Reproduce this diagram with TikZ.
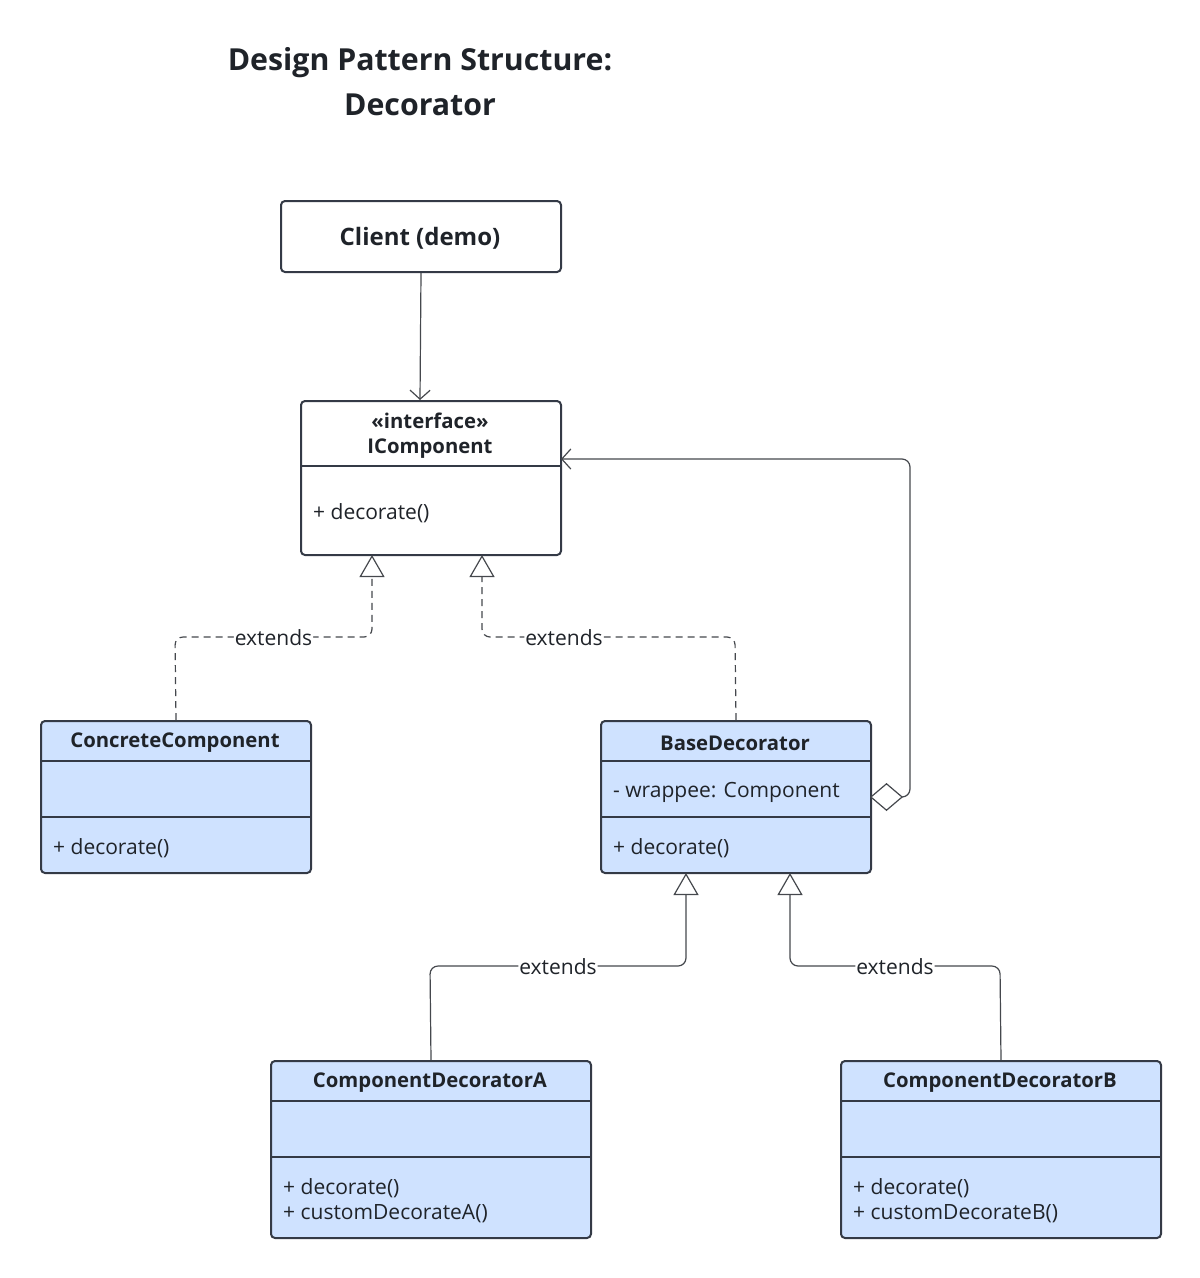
\documentclass[tikz,border=0pt]{standalone}
\usepackage{fontspec}
\setmainfont{Open Sans}
\usetikzlibrary{arrows.meta}
\definecolor{bordc}{HTML}{343A46}
\definecolor{clsfill}{HTML}{CFE2FF}
\definecolor{txtc}{HTML}{1F2329}
\definecolor{linec}{HTML}{45484D}
\tikzset{
  cls/.style={draw=bordc, line width=2pt, rounded corners=4pt, fill=clsfill, anchor=north west, inner sep=0pt},
  iface/.style={cls, fill=white},
  divider/.style={draw=bordc, line width=2pt},
  ttl/.style={font=\fontsize{20.3}{24}\selectfont\bfseries, text=txtc, inner sep=0pt},
  mem/.style={font=\fontsize{21}{25}\selectfont, text=txtc, inner sep=0pt, anchor=west, align=left},
  conn/.style={draw=linec, line width=1.2pt, rounded corners=8pt},
  dep/.style={conn, dash pattern=on 7pt off 5pt},
  gen/.style={-{Triangle[open, length=22pt, width=25pt, line width=1.2pt]}},
  assoc/.style={-{Straight Barb[length=9pt, width=20pt, line width=1.2pt]}},
  lbl/.style={fill=white, font=\fontsize{21}{24}\selectfont, text=txtc, inner sep=1pt},
}
\begin{document}
\begin{tikzpicture}[x=1pt, y=-1pt]
\useasboundingbox (0,0) rectangle (1200,1278);
% title
\node[font=\fontsize{30.3}{45}\selectfont\bfseries, text=txtc, align=center] (title) at (420,82) {Design Pattern Structure:\\Decorator};
% client
\node[iface, minimum width=280pt, minimum height=71pt] (cl) at (280,200) {};
\node[font=\fontsize{24}{28}\selectfont\bfseries, text=txtc] (clt) at (420,238) {Client (demo)};
% IComponent
\node[iface, minimum width=260pt, minimum height=154pt] (ic) at (300,400) {};
\node[ttl, align=center, font=\fontsize{20.3}{25}\selectfont\bfseries] (ict) at (430,436) {«interface»\\IComponent};
\draw[divider] (300,466) -- (560,466);
\node[mem] (icm) at (313,513) {+ decorate()};
% ConcreteComponent
\node[cls, minimum width=270pt, minimum height=152pt] (cc) at (40,720) {};
\node[ttl] (cct) at (175,743) {ConcreteComponent};
\draw[divider] (40,761) -- (310,761);
\draw[divider] (40,817) -- (310,817);
\node[mem] (ccm) at (53,848) {+ decorate()};
% BaseDecorator
\node[cls, minimum width=270pt, minimum height=152pt] (bd) at (600,720) {};
\node[ttl] (bdt) at (735,743) {BaseDecorator};
\draw[divider] (600,761) -- (870,761);
\draw[divider] (600,817) -- (870,817);
\node[mem] (bda) at (613,792) {- wrappee: Component};
\node[mem] (bdm) at (613,848) {+ decorate()};
% ComponentDecoratorA
\node[cls, minimum width=320pt, minimum height=177pt] (da) at (270,1060) {};
\node[ttl] (dat) at (430,1083) {ComponentDecoratorA};
\draw[divider] (270,1101) -- (590,1101);
\draw[divider] (270,1157) -- (590,1157);
\node[mem] (dam) at (283,1200.5) {+ decorate()\\+ customDecorateA()};
% ComponentDecoratorB
\node[cls, minimum width=320pt, minimum height=177pt] (db) at (840,1060) {};
\node[ttl] (dbt) at (1000,1083) {ComponentDecoratorB};
\draw[divider] (840,1101) -- (1160,1101);
\draw[divider] (840,1157) -- (1160,1157);
\node[mem] (dbm) at (853,1200.5) {+ decorate()\\+ customDecorateB()};
% anchor coordinates
\coordinate (icT) at (420,400);
\coordinate (icL) at (372,555);
\coordinate (icM) at (482,555);
\coordinate (icR) at (561,459);
\coordinate (bdL) at (686,873);
\coordinate (bdM) at (790,873);
\coordinate (bdR) at (870,797);
% connectors
\draw[conn, assoc] (cl.south) -- (icT);
\draw[dep, gen] (cc.north) -- (175,637) -- node[lbl, yshift=-1pt] {extends} (372,637) -- (icL);
\draw[dep, gen] (bd.north) -- (735,637) -- node[lbl, pos=0.676, yshift=-1pt] {extends} (482,637) -- (icM);
\draw[conn, gen] (da.north) -- (430,966) -- node[lbl, yshift=-1pt] {extends} (686,966) -- (bdL);
\draw[conn, gen] (db.north) -- (1000,966) -- node[lbl, yshift=-1pt] {extends} (790,966) -- (bdM);
\draw[conn, {Diamond[open, fill=white, length=33pt, width=28pt, line width=1.2pt]}-{Straight Barb[length=9pt, width=20pt, line width=1.2pt]}] (bdR) -- (910,797) -- (910,459) -- (icR);
\end{tikzpicture}
\end{document}
